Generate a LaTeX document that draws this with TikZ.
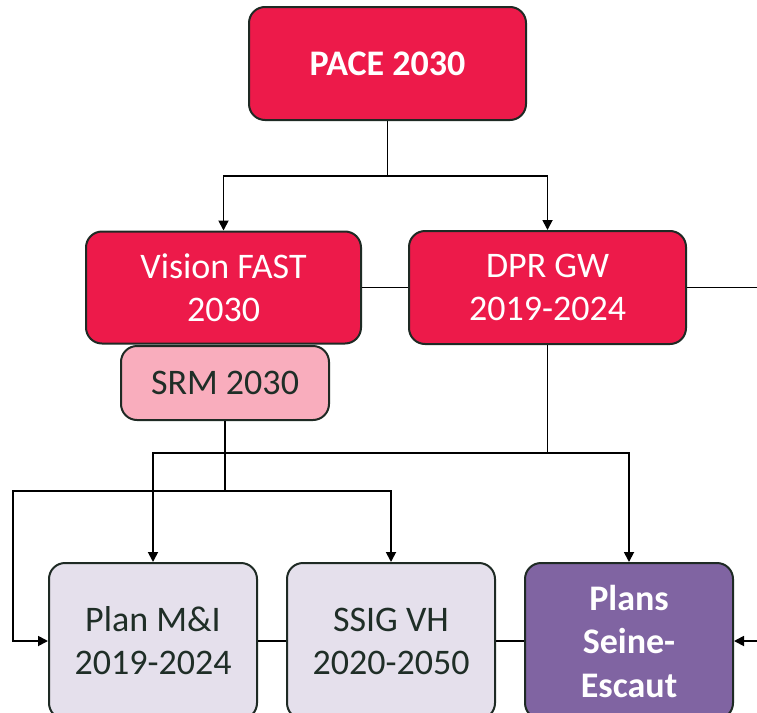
\documentclass[tikz,border=0pt]{standalone}
\usepackage{fontspec}
\setmainfont{Carlito}
\usetikzlibrary{arrows.meta}
\definecolor{crimson}{HTML}{ED1A4A}
\definecolor{rose}{HTML}{F9ADBD}
\definecolor{lavender}{HTML}{E5E0EC}
\definecolor{violet}{HTML}{8064A2}
\definecolor{edge}{HTML}{1E2A24}
\definecolor{ink}{HTML}{1F2E27}
\begin{document}
\begin{tikzpicture}[x=1pt,y=-1pt,
  box/.style={draw=edge, line width=2pt, rounded corners=16pt, align=center,
    inner sep=0pt, font=\fontsize{36}{43}\selectfont},
  redbox/.style={box, fill=crimson, text=white},
  pinkbox/.style={box, fill=rose, text=ink},
  greybox/.style={box, fill=lavender, text=ink},
  purplebox/.style={box, fill=violet, text=white, font=\fontsize{36}{43.5}\selectfont\bfseries},
  link/.style={draw=black, line width=1.8pt},
  arr/.style={link, -{Triangle[length=10pt,width=10pt]}}]
\clip (0,0) rectangle (757,712);
\fill[white] (0,0) rectangle (757,712);

% boxes
\node[redbox, minimum width=277pt, minimum height=113pt, font=\fontsize{36}{43}\selectfont\bfseries]
  (pace) at (387.5,63.5) {PACE 2030};
\node[redbox, minimum width=275pt, minimum height=112pt] (vision) at (223.5,287.5) {Vision FAST\\2030};
\node[redbox, minimum width=277pt, minimum height=113pt] (dpr) at (547.5,287.5) {DPR GW\\2019-2024};
\node[pinkbox, minimum width=208pt, minimum height=74pt] (srm) at (225,383) {SRM 2030};
\node[greybox, minimum width=208pt, minimum height=156pt] (plan) at (153,641) {Plan M\&I\\2019-2024};
\node[greybox, minimum width=208pt, minimum height=156pt] (ssig) at (391,641) {SSIG VH\\2020-2050};
\node[purplebox, minimum width=208pt, minimum height=156pt] (seine) at (629,641) {Plans\\Seine-\\Escaut};

% junction points
\coordinate (hubA) at (387.5,176);
\coordinate (hubB) at (225,491);
\coordinate (turnB) at (13,491);
\coordinate (hubC) at (547.5,453);
\coordinate (outR) at (757,287.5);
\coordinate (inR) at (757,641);

% connectors
\draw[link] (pace.south) -- (hubA);
\draw[arr] (hubA) -| (vision.north);
\draw[arr] (hubA) -| (dpr.north);
\draw[link] (vision.east) -- (dpr.west);
\draw[link] (dpr.east) -- (outR);

\draw[link] (srm.south) -- (hubB);
\draw[arr] (hubB) -- (turnB) |- (plan.west);
\draw[arr] (hubB) -| (ssig.north);

\draw[link] (dpr.south) -- (hubC);
\draw[arr] (hubC) -| (plan.north);
\draw[arr] (hubC) -| (seine.north);

\draw[link] (plan.east) -- (ssig.west);
\draw[link] (ssig.east) -- (seine.west);
\draw[arr] (inR) -- (seine.east);
\end{tikzpicture}
\end{document}
